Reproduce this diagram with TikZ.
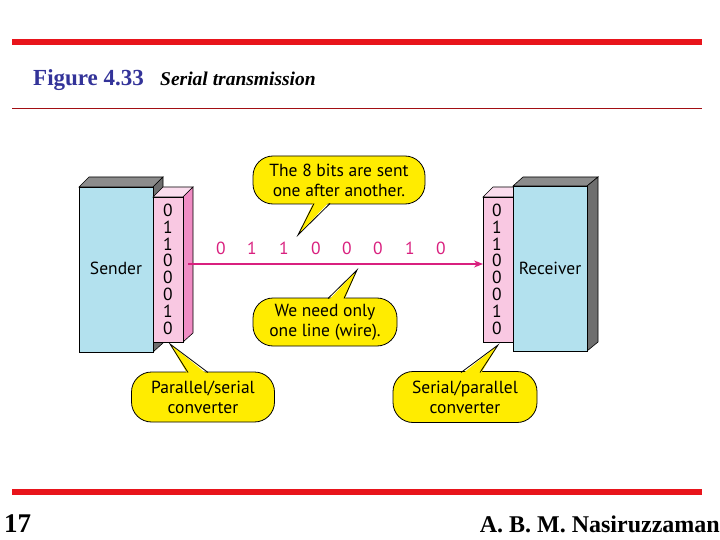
\documentclass[tikz,border=0pt]{standalone}
\usepackage{fontspec}
\setmainfont{Liberation Serif}
\newfontfamily\dsans{PT Sans}
\usetikzlibrary{arrows.meta}
\definecolor{rulered}{HTML}{E8141B}
\definecolor{capblue}{HTML}{333399}
\definecolor{boxblue}{HTML}{B3E1EE}
\definecolor{graytop}{HTML}{8C8C8C}
\definecolor{grayside}{HTML}{6E6E6E}
\definecolor{pinkfront}{HTML}{F9C8E2}
\definecolor{pinktop}{HTML}{FBDDEE}
\definecolor{pinkside}{HTML}{F08CC4}
\definecolor{wire}{HTML}{D9207F}
\definecolor{balloon}{HTML}{FFEC00}
\tikzset{
  balloonbox/.style={draw=black, line width=0.8pt, fill=balloon, rounded corners=20pt,
     font=\dsans\fontsize{17.5}{20}\selectfont, align=center, inner sep=0pt},
  face/.style={draw=black, line width=0.6pt},
  bit/.style={font=\dsans\fontsize{17.5}{17.5}\selectfont, inner sep=0pt},
  wirebit/.style={font=\dsans\fontsize{17.5}{17.5}\selectfont, text=wire, inner sep=0pt},
  boxlabel/.style={font=\dsans\fontsize{17.5}{17.5}\selectfont, inner sep=0pt},
  rule/.style={rulered, line width=6pt}
}
\begin{document}
\begin{tikzpicture}[x=1pt,y=-1pt]
\useasboundingbox (0,0) rectangle (720,540);
\fill[white] (0,0) rectangle (720,540);
% rules
\draw[rule] (12,42.5) -- (702,42.5);
\draw[rule] (12,491.5) -- (702,491.5);
\draw[rulered!70!black, line width=1.5pt] (12,108.5) -- (702,108.5);
% caption
\node[anchor=base west, inner sep=0pt, text=capblue, font=\bfseries\fontsize{23}{23}\selectfont] (fig) at (33,86) {Figure 4.33};
\node[anchor=base west, inner sep=0pt, font=\bfseries\itshape\fontsize{19.5}{19.5}\selectfont] (cap) at (160,86) {Serial transmission};
% footer
\node[anchor=base west, inner sep=0pt, font=\bfseries\fontsize{27}{27}\selectfont] (pg) at (4,532) {17};
\node[anchor=base east, inner sep=0pt, font=\bfseries\fontsize{24}{24}\selectfont] (auth) at (720,532) {A. B. M. Nasiruzzaman};

% sender box
\draw[face, fill=graytop] (79,187) -- (89,177) -- (163,177) -- (153,187) -- cycle;
\draw[face, fill=grayside] (153,187) -- (163,177) -- (163,343) -- (153,352) -- cycle;
\draw[face, fill=boxblue] (79,187) rectangle (153,352);
\node[boxlabel] (sender) at (116,268) {Sender};
% sender converter
\draw[face, fill=pinktop] (153,197) -- (163,187) -- (193,187) -- (183,197) -- cycle;
\draw[face, fill=pinkside] (183,197) -- (193,187) -- (193,333) -- (183,342) -- cycle;
\draw[face, fill=pinkfront] (153,197) rectangle (183,342);
\coordinate (sconv) at (188,264);
\foreach \b [count=\i] in {0,1,1,0,0,0,1,0}{
  \node[bit] (sb\i) at (168,{210+(\i-1)*16.9}) {\b};
}

% receiver converter
\draw[face, fill=pinktop] (483,197) -- (493,187) -- (523,187) -- (513,197) -- cycle;
\draw[face, fill=pinkfront] (483,197) rectangle (513,342);
\coordinate (rconv) at (483,264);
\foreach \b [count=\i] in {0,1,1,0,0,0,1,0}{
  \node[bit] (rb\i) at (497,{210+(\i-1)*16.9}) {\b};
}
% receiver box
\draw[face, fill=graytop] (513,186) -- (523,177) -- (598,177) -- (587,186) -- cycle;
\draw[face, fill=grayside] (587,186) -- (598,177) -- (598,342) -- (587,351) -- cycle;
\draw[face, fill=boxblue] (513,186) rectangle (587,351);
\node[boxlabel] (receiver) at (550,268) {Receiver};

% wire
\draw[wire, line width=1.2pt, -{Stealth[length=9pt,width=7pt]}] (sconv) -- (rconv);
\foreach \b/\x [count=\i] in {0/221,1/252,1/284,0/316,0/347,0/378,1/410,0/441}{
  \node[wirebit] (wb\i) at (\x,248) {\b};
}

% balloons
\node[balloonbox, minimum width=172pt, minimum height=48pt] (b1) at (339,180) {The 8 bits are sent\\one after another.};
\coordinate (t1) at (298,235);
\fill[balloon] (314,201) -- (t1) -- (330,201) -- cycle;
\draw[line width=0.8pt] (314,203.5) -- (t1) -- (330,203.5);

\node[balloonbox, minimum width=144pt, minimum height=48pt] (b2) at (325,322) {We need only\\one line (wire).};
\coordinate (t2) at (357,270);
\fill[balloon] (328,301) -- (t2) -- (344,301) -- cycle;
\draw[line width=0.8pt] (328,298.5) -- (t2) -- (344,298.5);

\node[balloonbox, minimum width=143pt, minimum height=50pt] (b3) at (203,397) {Parallel/serial\\converter};
\coordinate (t3) at (170,344);
\fill[balloon] (188,375) -- (t3) -- (208,375) -- cycle;
\draw[line width=0.8pt] (188,372.5) -- (t3) -- (208,372.5);

\node[balloonbox, minimum width=144pt, minimum height=51pt] (b4) at (465,397) {Serial/parallel\\converter};
\coordinate (t4) at (498,345);
\fill[balloon] (461,375) -- (t4) -- (480,375) -- cycle;
\draw[line width=0.8pt] (461,372.5) -- (t4) -- (480,372.5);
\end{tikzpicture}
\end{document}
